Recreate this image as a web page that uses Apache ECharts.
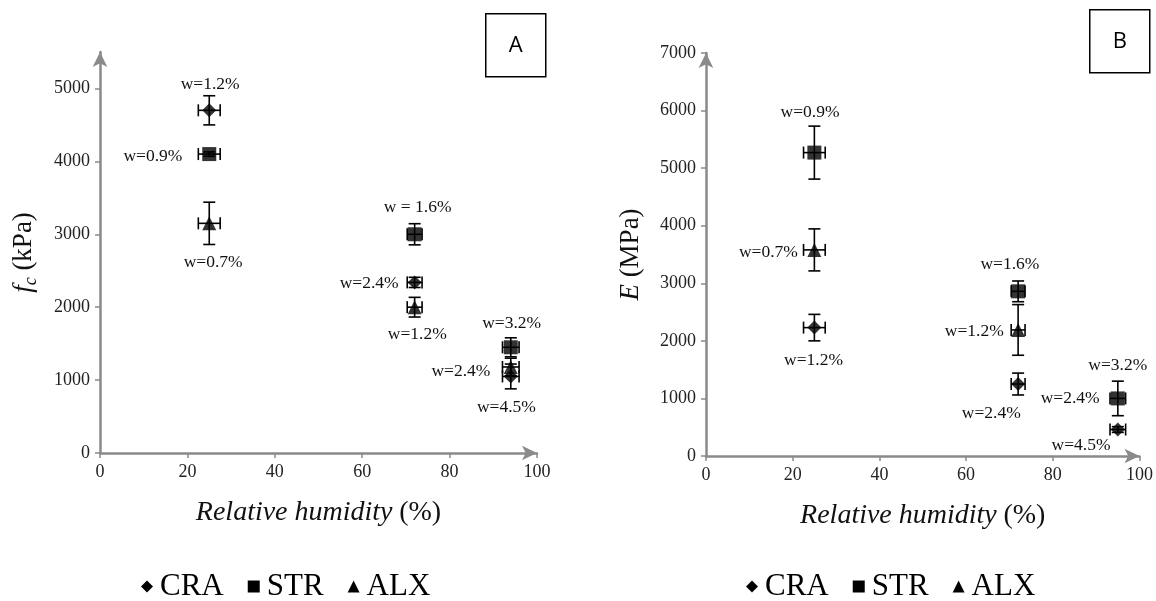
<!DOCTYPE html>
<html><head><meta charset="utf-8">
<script src="https://cdn.jsdelivr.net/npm/echarts@6/dist/echarts.min.js"></script>
<style>html,body{margin:0;padding:0;background:#fff}#c{width:1156px;height:601px}</style>
</head><body><div id="c"></div>
<script>
// ---------- DATA ----------
const seriesNames = ['CRA', 'STR', 'ALX'];
const xTicks = [0, 20, 40, 60, 80, 100];
const yTicksA = [0, 1000, 2000, 3000, 4000, 5000];
const yTicksB = [0, 1000, 2000, 3000, 4000, 5000, 6000, 7000];

// Panel A: compressive strength f_c (kPa)
const rhA = [25, 72, 94];
const rhErrA = [2.5, 1.7, 1.9];
const craA = [4700, 2340, 1050];
const craErrA = [200, 70, 170];
const strA = [4100, 3000, 1450];
const strErrA = [30, 145, 130];
const alxA = [3150, 2000, 1180];
const alxErrA = [290, 135, 120];

// Panel B: Young's modulus E (MPa)
const rhB = [25, 72, 95];
const rhErrB = [2.5, 1.6, 1.8];
const craB = [2230, 1250, 460];
const craErrB = [230, 190, 50];
const strB = [5270, 2860, 1000];
const strErrB = [460, 180, 300];
const alxB = [3580, 2190];
const alxErrB = [365, 440];

// water-content annotations: [text, RH, value]
const notesA = [
  ['w=1.2%', 25.2, 5060], ['w=0.9%', 12.1, 4070], ['w=0.7%', 25.9, 2610],
  ['w = 1.6%', 72.7, 3365], ['w=2.4%', 61.6, 2326], ['w=1.2%', 72.6, 1626],
  ['w=3.2%', 94.2, 1776], ['w=2.4%', 82.6, 1124], ['w=4.5%', 93, 628]
];
const notesB = [
  ['w=0.9%', 24, 5970], ['w=0.7%', 14.4, 3540], ['w=1.2%', 24.8, 1667],
  ['w=1.6%', 70.1, 3333], ['w=1.2%', 61.9, 2170], ['w=2.4%', 65.8, 746],
  ['w=3.2%', 95, 1580], ['w=2.4%', 84, 995], ['w=4.5%', 86.5, 179]
];

// ---------- BUILD ----------
const SERIF = '"Liberation Serif","Times New Roman",serif';
const AXIS_GREY = '#8a8a8a';
const symbols = { CRA: 'diamond', STR: 'rect', ALX: 'triangle' };
const symSize = { CRA: 14, STR: 14, ALX: 14 };

function pts(xs, ys, xe, ye) {
  return ys.map((y, i) => [xs[i], y, xe[i], ye[i]]);
}

function errSeries(name, data, idx) {
  return {
    type: 'custom', name: name, xAxisIndex: idx, yAxisIndex: idx, z: 2,
    data: data, silent: true,
    renderItem: function (params, api) {
      const x = api.value(0), y = api.value(1), dx = api.value(2), dy = api.value(3);
      const c = api.coord([x, y]);
      const l = api.coord([x - dx, y]), r = api.coord([x + dx, y]);
      const t = api.coord([x, y + dy]), b = api.coord([x, y - dy]);
      const cap = 6;
      const st = { stroke: '#000', lineWidth: 1.6 };
      const line = (x1, y1, x2, y2) => ({ type: 'line', shape: { x1, y1, x2, y2 }, style: st });
      return {
        type: 'group', children: [
          line(l[0], c[1], r[0], c[1]),
          line(c[0], t[1], c[0], b[1]),
          line(l[0], c[1] - cap, l[0], c[1] + cap),
          line(r[0], c[1] - cap, r[0], c[1] + cap),
          line(c[0] - cap, t[1], c[0] + cap, t[1]),
          line(c[0] - cap, b[1], c[0] + cap, b[1])
        ]
      };
    }
  };
}

function scatterSeries(name, data, idx) {
  return {
    type: 'scatter', name: name, xAxisIndex: idx, yAxisIndex: idx, z: 3,
    symbol: symbols[name], symbolSize: symSize[name],
    itemStyle: { color: '#000' }, data: data.map(d => [d[0], d[1]])
  };
}

function noteSeries(notes, idx) {
  return {
    type: 'custom', xAxisIndex: idx, yAxisIndex: idx, z: 4, silent: true,
    data: notes.map(n => [n[1], n[2], n[0]]),
    renderItem: function (params, api) {
      const p = api.coord([api.value(0), api.value(1)]);
      return {
        type: 'text', x: p[0], y: p[1],
        style: { text: notes[params.dataIndex][0], font: '17.5px ' + SERIF, fill: '#111', align: 'center', verticalAlign: 'middle' }
      };
    }
  };
}

const arrowLine = { show: true, lineStyle: { color: AXIS_GREY, width: 2.5 }, symbol: ['none', 'arrow'], symbolSize: [11, 15], symbolOffset: [0, 0] };

function xAxis(idx) {
  return {
    type: 'value', gridIndex: idx, min: 0, max: 100, interval: 20,
    name: '{i|Relative humidity}  {n|(%)}', nameLocation: 'middle', nameGap: 46,
    nameTextStyle: { rich: { i: { fontFamily: SERIF, fontStyle: 'italic', fontSize: 28, color: '#111' }, n: { fontFamily: SERIF, fontSize: 28, color: '#111' } } },
    axisLine: arrowLine,
    axisTick: { show: true, length: 5, lineStyle: { color: AXIS_GREY, width: 1.5 }, customValues: xTicks },
    axisLabel: { fontFamily: SERIF, fontSize: 18, color: '#222', margin: 10, customValues: xTicks, formatter: v => String(v) },
    splitLine: { show: false }
  };
}

function yAxis(idx, max, ticks, nameRich, gap) {
  return {
    type: 'value', gridIndex: idx, min: 0, max: max, interval: 1000,
    name: nameRich, nameLocation: 'middle', nameGap: gap, nameRotate: 90,
    nameTextStyle: { rich: {
      i: { fontFamily: SERIF, fontStyle: 'italic', fontSize: 27, color: '#111' },
      s: { fontFamily: SERIF, fontStyle: 'italic', fontSize: 18, color: '#111', padding: [14, 0, 0, 0] },
      n: { fontFamily: SERIF, fontSize: 27, color: '#111' } } },
    axisLine: arrowLine,
    axisTick: { show: true, length: 5, lineStyle: { color: AXIS_GREY, width: 1.5 }, customValues: ticks },
    axisLabel: { fontFamily: SERIF, fontSize: 18, color: '#222', margin: 10, customValues: ticks, formatter: v => String(v) },
    splitLine: { show: false }
  };
}

function legend(left) {
  return {
    left: left, top: 566, itemWidth: 12, itemHeight: 12, itemGap: 24,
    textStyle: { fontFamily: SERIF, fontSize: 31, color: '#000', padding: [0, 0, 0, 2] },
    data: seriesNames.map(n => ({ name: n, icon: symbols[n], itemStyle: { color: '#000' } })),
    selectedMode: false
  };
}

function box(letter, x, y) {
  return {
    type: 'group', left: x, top: y, children: [
      { type: 'rect', shape: { x: 0, y: 0, width: 60, height: 63 }, style: { fill: '#fff', stroke: '#000', lineWidth: 1.5 } },
      { type: 'text', x: 30, y: 32, style: { text: letter, font: '22px "Open Sans","Liberation Sans",sans-serif', fill: '#000', align: 'center', verticalAlign: 'middle' } }
    ]
  };
}

const dA = { CRA: pts(rhA, craA, rhErrA, craErrA), STR: pts(rhA, strA, rhErrA, strErrA), ALX: pts(rhA, alxA, rhErrA, alxErrA) };
const dB = { CRA: pts(rhB, craB, rhErrB, craErrB), STR: pts(rhB, strB, rhErrB, strErrB), ALX: pts(rhB, alxB, rhErrB, alxErrB) };

const series = [];
[[dA, 0], [dB, 1]].forEach(([d, idx]) => {
  seriesNames.forEach(n => series.push(errSeries(n, d[n], idx)));
  seriesNames.forEach(n => series.push(scatterSeries(n, d[n], idx)));
});
series.push(noteSeries(notesA, 0));
series.push(noteSeries(notesB, 1));

const option = {
  animation: false,
  backgroundColor: '#fff',
  grid: [
    { left: 100, right: 619, top: 52, bottom: 148, containLabel: false },
    { left: 706, right: 16, top: 53, bottom: 145, containLabel: false }
  ],
  xAxis: [xAxis(0), xAxis(1)],
  yAxis: [
    yAxis(0, 5500, yTicksA, '{i|f}{s|c}{n| (kPa)}', 60),
    yAxis(1, 7000, yTicksB, '{i|E}{n| (MPa)}', 62)
  ],
  legend: [legend(136), legend(741)],
  graphic: [box('A', 485, 13), box('B', 1089, 9)],
  series: series
};

const chart = echarts.init(document.getElementById('c'), null, { renderer: 'canvas' });
chart.setOption(option);
</script>
</body></html>
